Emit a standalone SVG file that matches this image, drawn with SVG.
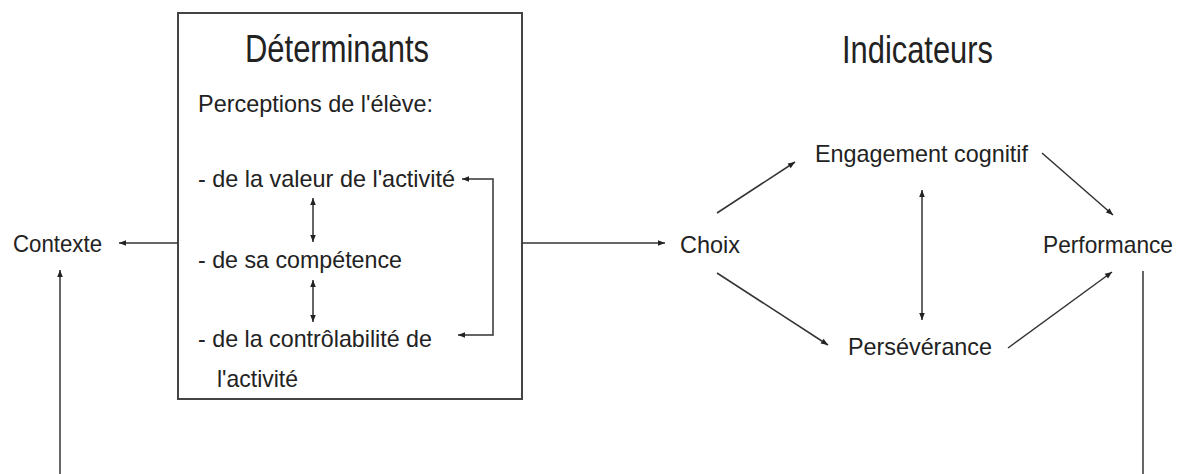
<svg xmlns="http://www.w3.org/2000/svg" width="1184" height="474" viewBox="0 0 1184 474">
<style>
text{font-family:"Liberation Sans",Arial,sans-serif;fill:#222;}
.title{font-size:38px;}
.t{font-size:24px;}
.c{fill:none;stroke:#333;stroke-width:1.5;}
.box{fill:none;stroke:#444;stroke-width:2;}
</style>
<defs>
<marker id="ah" viewBox="0 0 10 10" refX="10" refY="5" markerWidth="9" markerHeight="7" markerUnits="userSpaceOnUse" orient="auto-start-reverse">
<path d="M0,1 L10,5 L0,9 z" fill="#222"/>
</marker>
</defs>
<rect width="1184" height="474" fill="#fff"/>
<g id="determinants">
<rect class="box" x="178" y="13" width="344" height="386"/>
<text class="title" x="245" y="62" textLength="184" lengthAdjust="spacingAndGlyphs">Déterminants</text>
<text class="t" x="198" y="112" textLength="235" lengthAdjust="spacingAndGlyphs">Perceptions de l'élève:</text>
<text class="t" x="198" y="187" textLength="257" lengthAdjust="spacingAndGlyphs">- de la valeur de l'activité</text>
<text class="t" x="198" y="268" textLength="204" lengthAdjust="spacingAndGlyphs">- de sa compétence</text>
<text class="t" x="198" y="347" textLength="234" lengthAdjust="spacingAndGlyphs">- de la contrôlabilité de</text>
<text class="t" x="217" y="387" textLength="81" lengthAdjust="spacingAndGlyphs">l'activité</text>
</g>
<g id="indicateurs">
<text class="title" x="842" y="63" textLength="151" lengthAdjust="spacingAndGlyphs">Indicateurs</text>
</g>
<g id="contexte">
<text class="t" x="13" y="252" textLength="89" lengthAdjust="spacingAndGlyphs">Contexte</text>
</g>
<g id="choix">
<text class="t" x="680" y="253" textLength="60" lengthAdjust="spacingAndGlyphs">Choix</text>
</g>
<g id="engagement">
<text class="t" x="815" y="162" textLength="213" lengthAdjust="spacingAndGlyphs">Engagement cognitif</text>
</g>
<g id="perseverance">
<text class="t" x="848" y="355" textLength="144" lengthAdjust="spacingAndGlyphs">Persévérance</text>
</g>
<g id="performance">
<text class="t" x="1043" y="253" textLength="130" lengthAdjust="spacingAndGlyphs">Performance</text>
</g>
<g id="connectors">
<line class="c" x1="178" y1="243" x2="119" y2="243" marker-end="url(#ah)"/>
<line class="c" x1="60" y1="474" x2="60" y2="270" marker-end="url(#ah)"/>
<line class="c" x1="522" y1="243" x2="665" y2="243" marker-end="url(#ah)"/>
<line class="c" x1="717" y1="213" x2="795" y2="162" marker-end="url(#ah)"/>
<line class="c" x1="717" y1="273" x2="828" y2="345" marker-end="url(#ah)"/>
<line class="c" x1="1042" y1="153" x2="1113" y2="215" marker-end="url(#ah)"/>
<line class="c" x1="1008" y1="348" x2="1112" y2="272" marker-end="url(#ah)"/>
<line class="c" x1="922" y1="190" x2="922" y2="320" marker-start="url(#ah)" marker-end="url(#ah)"/>
<line class="c" x1="1143" y1="271" x2="1143" y2="474"/>
<line class="c" x1="313" y1="198" x2="313" y2="242" marker-start="url(#ah)" marker-end="url(#ah)"/>
<line class="c" x1="313" y1="280" x2="313" y2="322" marker-start="url(#ah)" marker-end="url(#ah)"/>
<path class="c" d="M462,179 H493 V335 H458" marker-start="url(#ah)" marker-end="url(#ah)"/>
</g>
</svg>
